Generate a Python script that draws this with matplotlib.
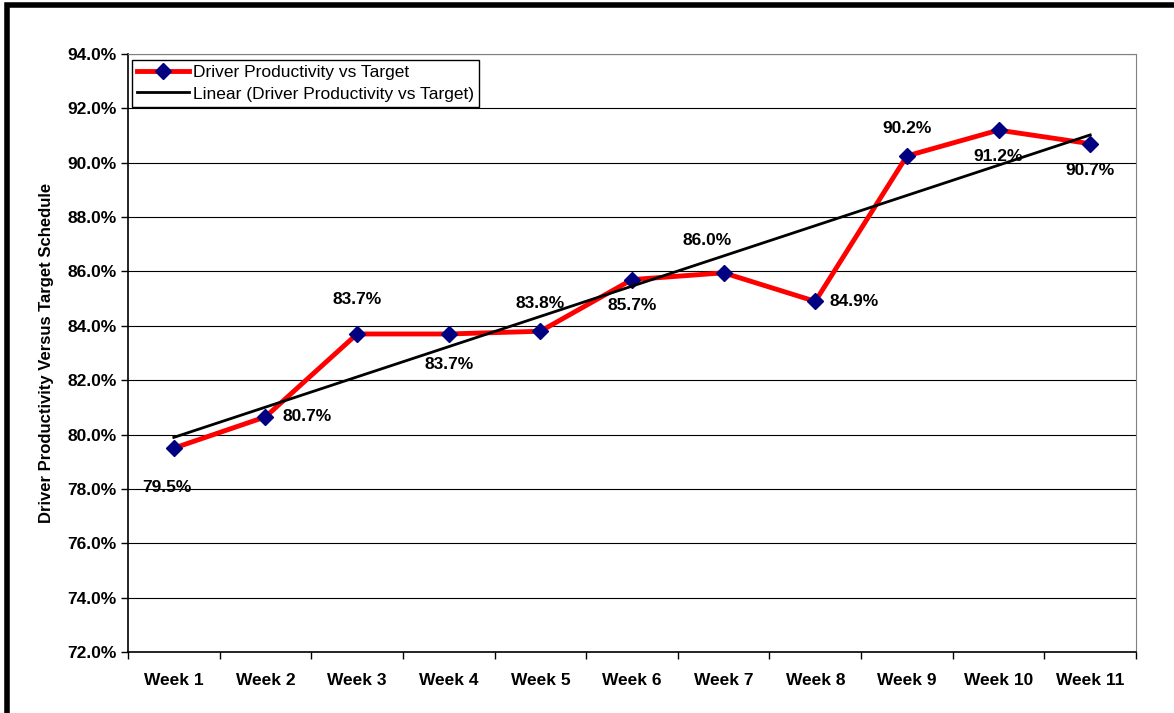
import numpy as np
import matplotlib.pyplot as plt
from matplotlib.patches import Rectangle

weeks = ['Week 1', 'Week 2', 'Week 3', 'Week 4', 'Week 5', 'Week 6',
         'Week 7', 'Week 8', 'Week 9', 'Week 10', 'Week 11']
productivity = [79.5, 80.65, 83.7, 83.7, 83.8, 85.7, 85.95, 84.9, 90.25, 91.2, 90.7]
labels = ['79.5%', '80.7%', '83.7%', '83.7%', '83.8%', '85.7%',
          '86.0%', '84.9%', '90.2%', '91.2%', '90.7%']
# label offsets in points (dx, dy)
offsets = [(-5, -28), (30, 0), (0, 25), (0, -22), (0, 20), (0, -19),
           (-12, 23), (28, 0), (0, 20), (0, -19), (0, -19)]

plt.rcParams['font.family'] = ['Liberation Sans', 'DejaVu Sans']

fig = plt.figure(figsize=(11.74, 7.13), dpi=100)
ax = fig.add_axes([128/1174, 1-652/713, 1008/1174, 598/713])

x = np.arange(len(weeks))
ax.plot(x, productivity, color='red', lw=3.5, marker='D', ms=8.5,
        mfc='#000080', mec='#000080', label='Driver Productivity vs Target', zorder=3)

slope, icpt = np.polyfit(x, productivity, 1)
ax.plot(x, slope*x + icpt, color='black', lw=2,
        label='Linear (Driver Productivity vs Target)', zorder=4)

for i, (v, t) in enumerate(zip(productivity, labels)):
    dx, dy = offsets[i]
    ax.annotate(t, (i, v), xytext=(dx, dy), textcoords='offset points',
                ha='center', va='center', fontsize=12.5, fontweight='bold', zorder=5)

ax.set_xlim(-0.5, len(weeks)-0.5)
ax.set_ylim(72, 94)
ax.set_yticks(np.arange(72, 94.1, 2))
ax.set_yticklabels([f'{v:.1f}%' for v in np.arange(72, 94.1, 2)],
                   fontsize=12.5, fontweight='bold')
ax.set_xticks(x)
ax.set_xticklabels(weeks, fontsize=12.5, fontweight='bold')
ax.set_xticks(np.arange(-0.5, len(weeks)), minor=True)
ax.tick_params(axis='x', which='major', length=0, pad=15)
ax.tick_params(axis='x', which='minor', length=5, width=1)
ax.tick_params(axis='y', length=5, width=1, pad=3)
ax.grid(axis='y', color='black', lw=0.8)
ax.set_axisbelow(True)
for s in ['top', 'right']:
    ax.spines[s].set_color('#808080')
for s in ['left', 'bottom']:
    ax.spines[s].set_color('black')
    ax.spines[s].set_linewidth(1.2)

ax.set_ylabel('Driver Productivity Versus Target Schedule', fontsize=12,
              fontweight='bold', labelpad=10)

leg = ax.legend(loc='upper left', bbox_to_anchor=(0.004, 0.99), fontsize=12.5,
                frameon=True, fancybox=False, edgecolor='black', framealpha=1,
                borderpad=0.3, handlelength=3.0, handletextpad=0.2,
                labelspacing=0.35, borderaxespad=0)
leg.get_frame().set_linewidth(1.0)

fig.patches.append(Rectangle((7/1174, -0.05), 1.1, 1-5/713+0.05, transform=fig.transFigure,
                             fill=False, edgecolor='black', lw=4))

fig.savefig('out.png', dpi=100)
